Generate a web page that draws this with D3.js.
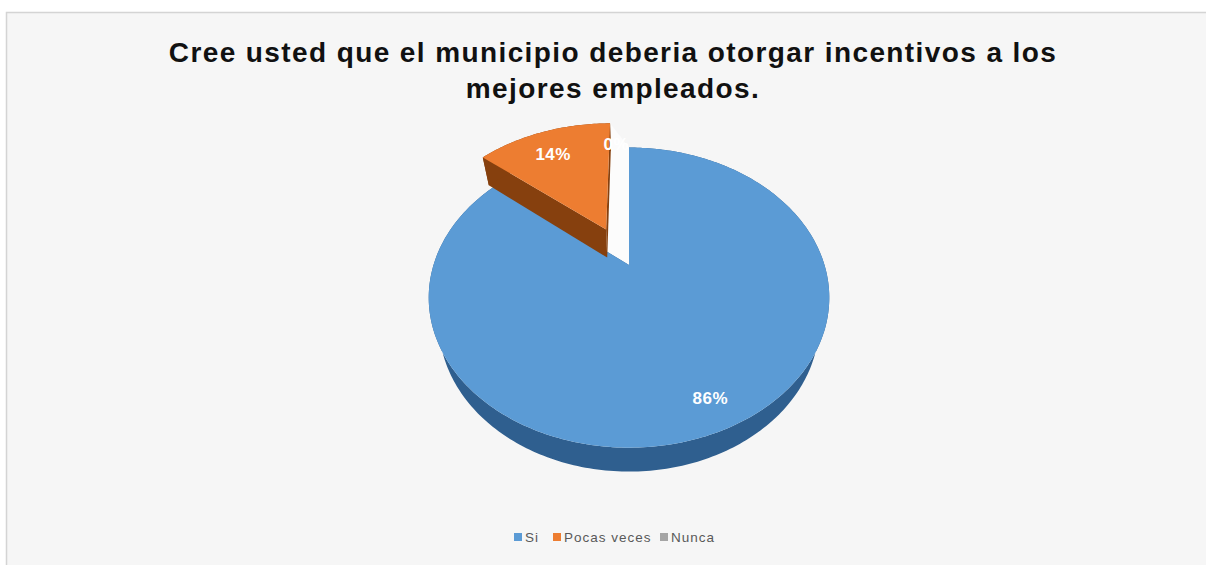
<!DOCTYPE html>
<html>
<head>
<meta charset="utf-8">
<script src="https://cdn.jsdelivr.net/npm/d3@7/dist/d3.min.js"></script>
<style>
  html, body { margin: 0; padding: 0; background: #ffffff; }
  svg { display: block; }
</style>
</head>
<body>
<svg id="chart" width="1206" height="565"></svg>
<script>
// ---- data ----
const categories = ["Si", "Pocas veces", "Nunca"];
const values = [86, 14, 0];
const valueLabels = ["86%", "14%", "0%"];
const titleLines = ["Cree usted que el municipio deberia otorgar incentivos a los", "mejores empleados."];

// ---- styling ----
const topColors  = ["#5b9bd5", "#ed7d31", "#a5a5a5"];
const sideColors = ["#2f5f8f", "#86400e", "#6b6b6b"];
const explode = { "Pocas veces": 0.29, "Nunca": 0.29 };

const W = 1206, H = 565;
const svg = d3.select("#chart");

// chart area panel
svg.append("rect").attr("x", 6).attr("y", 12).attr("width", W - 6).attr("height", H - 12)
  .attr("fill", "#f6f6f6");
svg.append("path").attr("d", `M6.5,${H} V12.5 H${W}`)
  .attr("fill", "none").attr("stroke", "#d4d4d4").attr("stroke-width", 1.5);

// title
const title = svg.append("text")
  .attr("x", 613).attr("y", 62)
  .attr("text-anchor", "middle")
  .attr("font-family", "'Liberation Sans', Arial, sans-serif")
  .attr("font-weight", "bold")
  .attr("font-size", 28)
  .attr("letter-spacing", 1.4)
  .attr("fill", "#111");
titleLines.forEach((t, i) => {
  title.append("tspan").attr("x", 613).attr("dy", i === 0 ? 0 : 35.5).text(t);
});

// ---- 3D projection of the pie disk ----
const cx = 629, cy = 265;         // screen position of the pie centre
const k = 195.5;                  // pixels per unit radius
const elev = 47 * Math.PI / 180;  // viewing elevation
const sE = Math.sin(elev), cE = Math.cos(elev);
const D = 3.14;                   // camera distance (perspective)
const depth = 0.22;               // thickness of the pie

function project(X, Y, Z) {
  const ys = Y * cE - Z * sE;
  const zs = Y * sE + Z * cE;
  const sc = D / (D - zs);
  return [cx + k * X * sc, cy - k * ys * sc];
}

const pie = d3.pie().sort(null).value(d => d.value).startAngle(0).endAngle(2 * Math.PI);
const data = categories.map((c, i) => ({ cat: c, value: values[i], label: valueLabels[i], i }));
const arcs = pie(data);

arcs.forEach(a => {
  const e = explode[a.data.cat] || 0;
  const mid = (a.startAngle + a.endAngle) / 2;
  a.ox = e * Math.sin(mid);
  a.oz = -e * Math.cos(mid);
  a.mid = mid;
});

function pt(a, r, ang, Y) {
  return project(a.ox + r * Math.sin(ang), Y, a.oz - r * Math.cos(ang));
}
function arcPoints(a, Y, reverse) {
  const n = Math.max(2, Math.ceil((a.endAngle - a.startAngle) / (Math.PI / 180)));
  const pts = [];
  for (let j = 0; j <= n; j++) {
    const t = a.startAngle + (a.endAngle - a.startAngle) * j / n;
    pts.push(pt(a, 1, t, Y));
  }
  return reverse ? pts.reverse() : pts;
}
const line = d3.line();
const closed = pts => line(pts) + "Z";

// paint far slices first
const order = arcs.slice().sort((p, q) => (q.oz - Math.cos(q.mid)) - (p.oz - Math.cos(p.mid)));
const g = svg.append("g");

// lit gap between the exploded slices and the main slice
const main = arcs[0], ex = arcs[1];
g.append("path")
  .attr("d", closed([
    pt(ex, 1, ex.endAngle, 0), pt(main, 1, main.startAngle, 0),
    pt(main, 0, 0, -depth), pt(ex, 0, 0, -depth)
  ]))
  .attr("fill", "#fcfcfc");

order.forEach(a => {
  if (a.endAngle - a.startAngle <= 0) return;
  const i = a.data.i;
  const sg = g.append("g");
  // radial walls
  [a.startAngle, a.endAngle].forEach(ang => {
    sg.append("path")
      .attr("d", closed([pt(a, 0, ang, 0), pt(a, 1, ang, 0), pt(a, 1, ang, -depth), pt(a, 0, ang, -depth)]))
      .attr("fill", sideColors[i]);
  });
  // outer curved wall
  sg.append("path")
    .attr("d", closed(arcPoints(a, 0, false).concat(arcPoints(a, -depth, true))))
    .attr("fill", sideColors[i]);
  // top face
  const topPts = [pt(a, 0, 0, 0)].concat(arcPoints(a, 0, false));
  sg.append("path")
    .attr("d", closed(topPts))
    .attr("fill", topColors[i]);
});

// value labels
arcs.forEach(a => {
  const p = pt(a, 0.82, a.mid, 0);
  const zero = a.value === 0;
  svg.append("text")
    .attr("x", p[0]).attr("y", p[1] + 13)
    .attr("text-anchor", zero ? "end" : "middle")
    .attr("font-family", "'Liberation Sans', Arial, sans-serif")
    .attr("font-weight", "bold")
    .attr("font-size", 17)
    .attr("letter-spacing", 0.5)
    .attr("fill", "#ffffff")
    .text(a.data.label);
});

// legend
const legendX = [514, 553, 660];
const lg = svg.append("g")
  .attr("font-family", "'Liberation Sans', Arial, sans-serif")
  .attr("font-size", 13.5)
  .attr("letter-spacing", 1)
  .attr("fill", "#595959");
categories.forEach((c, i) => {
  lg.append("rect").attr("x", legendX[i]).attr("y", 533).attr("width", 8).attr("height", 8)
    .attr("fill", topColors[i]);
  lg.append("text").attr("x", legendX[i] + 11).attr("y", 542).text(c);
});
</script>
</body>
</html>
